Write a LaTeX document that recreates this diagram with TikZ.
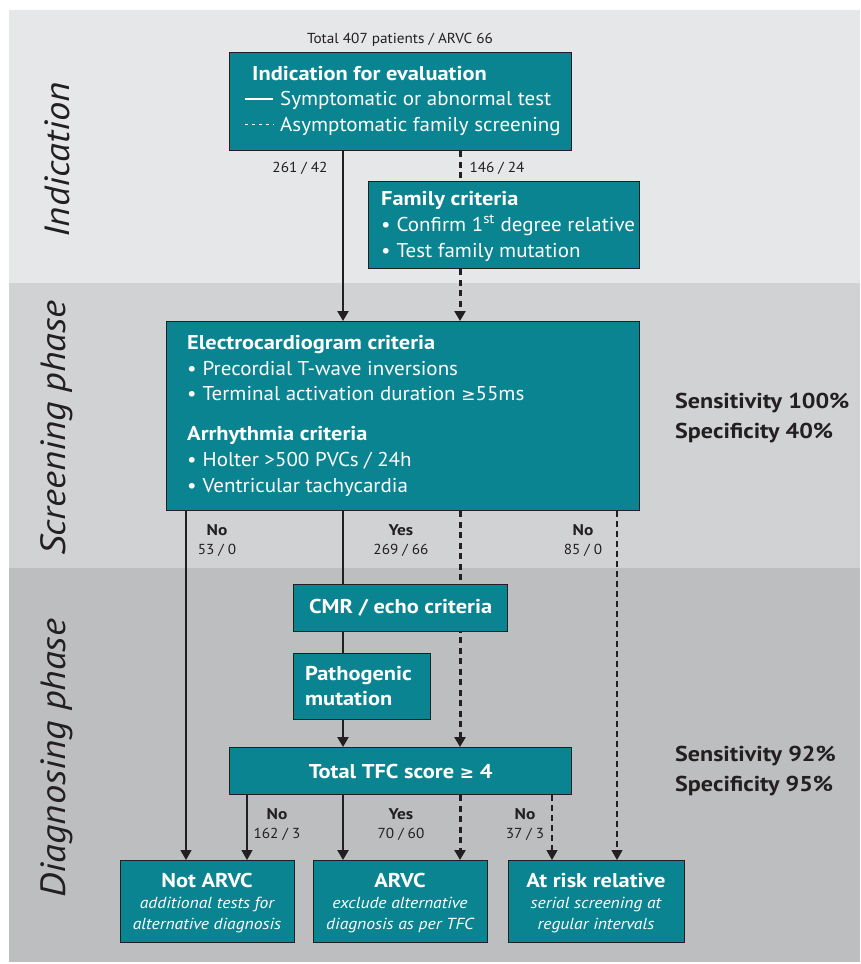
\documentclass[tikz,border=0pt]{standalone}
\usepackage{fontspec}
\setmainfont{PT Sans}[FakeStretch=1.05, BoldFeatures={FakeStretch=1.12}, ItalicFeatures={FakeStretch=1.1}]
\newfontfamily\symfont{DejaVu Sans}
\usetikzlibrary{arrows.meta}
\definecolor{teal1}{HTML}{0B8491}
\definecolor{bandA}{HTML}{E6E7E8}
\definecolor{bandB}{HTML}{D1D2D4}
\definecolor{bandC}{HTML}{BCBEC0}
\definecolor{ink}{HTML}{231F20}
\pgfdeclarelayer{bg}\pgfdeclarelayer{edges}\pgfsetlayers{bg,edges,main}
\newcommand{\fs}[1]{\fontsize{#1}{#1}\selectfont}
\begin{document}
\begin{tikzpicture}[x=1pt,y=-1pt,
  box/.style={draw=ink, fill=teal1, line width=1.3pt, inner sep=0pt, anchor=north west},
  wt/.style={text=white, inner sep=0pt, font=\fs{20}},
  wtb/.style={wt, font=\fs{20}\bfseries},
  lab/.style={text=ink, inner sep=0pt, anchor=base, font=\fs{14.5}},
  labb/.style={text=ink, inner sep=0pt, anchor=base, font=\fs{15.5}\bfseries},
  sens/.style={text=ink, inner sep=0pt, anchor=base west, font=\fs{21.5}\bfseries},
  phase/.style={text=ink, inner sep=0pt, rotate=90, font=\fs{35}\itshape},
  solidthick/.style={draw=ink, line width=2.8pt},
  solidthin/.style={draw=ink, line width=1.2pt},
  dashthick/.style={draw=ink, line width=3pt, dash pattern=on 6pt off 4.5pt},
  dashthin/.style={draw=ink, line width=1.2pt, dash pattern=on 5.5pt off 4.5pt},
  tip/.style={-{Triangle[length=10pt,width=11pt]}},
]
\useasboundingbox (0,0) rectangle (861,964);
% bands
\begin{pgfonlayer}{bg}
\fill[white] (0,0) rectangle (861,964);
\fill[bandA] (9,10) rectangle (860,283);
\fill[bandB] (9,283) rectangle (860,568);
\fill[bandC] (9,568) rectangle (860,962);
\end{pgfonlayer}

% phase labels
\node[phase] (phA) at (57,160) {Indication};
\node[phase] (phB) at (57,428) {Screening phase};
\node[phase] (phC) at (57,758) {Diagnosing phase};

% x positions of connectors
\coordinate (xa) at (186,0);
\coordinate (xb) at (247,0);
\coordinate (xc) at (343,0);
\coordinate (xd) at (460,0);
\coordinate (xe) at (552,0);
\coordinate (xf) at (617,0);

% top label
\node[lab] (total) at (400,43) {Total 407 patients / ARVC 66};

% indication box
\node[box, minimum width=342pt, minimum height=98pt] (ind) at (229,52) {};
\node[wtb, anchor=base west] (ind1) at (252,80) {Indication for evaluation};
\node[wt, anchor=base west] (ind2) at (280,105) {Symptomatic or abnormal test};
\node[wt, anchor=base west] (ind3) at (280,131) {Asymptomatic family screening};
\draw[white, line width=1.4pt] (245,99) -- (273,99);
\draw[white, line width=1.4pt, dash pattern=on 3pt off 4pt] (245,124.5) -- (274,124.5);

% family box
\node[box, minimum width=271pt, minimum height=87pt] (fam) at (368,181) {};
\node[wtb, anchor=base west] (fam1) at (381,205) {Family criteria};
\node[wt, anchor=base west] (fam2) at (381,231) {\textbullet\hspace{6pt}Confirm 1\textsuperscript{st} degree relative};
\node[wt, anchor=base west] (fam3) at (381,257) {\textbullet\hspace{6pt}Test family mutation};

% ECG box
\node[box, minimum width=473pt, minimum height=189pt] (ecg) at (166,321) {};
\node[wtb, anchor=base west] (ecg1) at (187,349) {Electrocardiogram criteria};
\node[wt, anchor=base west] (ecg2) at (187,375) {\textbullet\hspace{6pt}Precordial T-wave inversions};
\node[wt, anchor=base west] (ecg3) at (187,400) {\textbullet\hspace{6pt}Terminal activation duration {\symfont\fs{17}≥}55ms};
\node[wtb, anchor=base west] (ecg4) at (187,440) {Arrhythmia criteria};
\node[wt, anchor=base west] (ecg5) at (187,466) {\textbullet\hspace{6pt}Holter >500 PVCs / 24h};
\node[wt, anchor=base west] (ecg6) at (187,492) {\textbullet\hspace{6pt}Ventricular tachycardia};

% CMR box
\node[box, minimum width=214pt, minimum height=47pt] (cmr) at (293,584) {};
\node[wtb] (cmrt) at (cmr.center) {CMR / echo criteria};

% pathogenic box
\node[box, minimum width=137pt, minimum height=66pt] (path) at (293,653) {};
\node[wtb, anchor=base west] (path1) at (305,680) {Pathogenic};
\node[wtb, anchor=base west] (path2) at (305,705) {mutation};

% TFC box
\node[box, minimum width=342pt, minimum height=47pt] (tfc) at (229,747) {};
\node[wtb] (tfct) at (tfc.center) {Total TFC score {\symfont\fs{17}≥} 4};

% outcome boxes
\node[box, minimum width=174pt, minimum height=82pt] (notarvc) at (120,860) {};
\node[wt, anchor=base, font=\fs{20}\bfseries] (na1) at (207,887) {Not ARVC};
\node[wt, anchor=base, font=\fs{16}\itshape] (na2) at (207,908) {additional tests for};
\node[wt, anchor=base, font=\fs{16}\itshape] (na3) at (207,929) {alternative diagnosis};

\node[box, minimum width=174pt, minimum height=82pt] (arvc) at (313,860) {};
\node[wt, anchor=base, font=\fs{20}\bfseries] (ar1) at (400,887) {ARVC};
\node[wt, anchor=base, font=\fs{16}\itshape] (ar2) at (400,908) {exclude alternative};
\node[wt, anchor=base, font=\fs{16}\itshape] (ar3) at (400,929) {diagnosis as per TFC};

\node[box, minimum width=176pt, minimum height=82pt] (risk) at (508,860) {};
\node[wt, anchor=base, font=\fs{20}\bfseries] (rk1) at (596,887) {At risk relative};
\node[wt, anchor=base, font=\fs{16}\itshape] (rk2) at (596,908) {serial screening at};
\node[wt, anchor=base, font=\fs{16}\itshape] (rk3) at (596,929) {regular intervals};

% sensitivity texts
\node[sens] (s1) at (675,408) {Sensitivity 100\%};
\node[sens] (s2) at (675,438) {Specificity 40\%};
\node[sens] (s3) at (675,761) {Sensitivity 92\%};
\node[sens] (s4) at (675,791) {Specificity 95\%};

% connector labels
\node[lab] (l1) at (300,172) {261 / 42};
\node[lab] (l2) at (497,172) {146 / 24};
\node[labb] (l3a) at (217,535) {No};
\node[lab] (l3b) at (217,554) {53 / 0};
\node[labb] (l4a) at (401,535) {Yes};
\node[lab] (l4b) at (401,554) {269 / 66};
\node[labb] (l5a) at (583,535) {No};
\node[lab] (l5b) at (583,554) {85 / 0};
\node[labb] (l6a) at (277,819) {No};
\node[lab] (l6b) at (277,838) {162 / 3};
\node[labb] (l7a) at (401,819) {Yes};
\node[lab] (l7b) at (401,838) {70 / 60};
\node[labb] (l8a) at (525,819) {No};
\node[lab] (l8b) at (525,838) {37 / 3};

% connectors
\begin{pgfonlayer}{edges}
\draw[solidthick, tip] (ind.south -| xc) -- (ecg.north -| xc);
\draw[dashthick] (ind.south -| xd) -- (fam.north -| xd);
\draw[dashthick, tip] (fam.south -| xd) -- (ecg.north -| xd);

\draw[solidthin, tip] (ecg.south -| xa) -- (notarvc.north -| xa);
\draw[solidthick] (ecg.south -| xc) -- (cmr.north -| xc);
\draw[solidthick] (cmr.south -| xc) -- (path.north -| xc);
\draw[solidthick, tip] (path.south -| xc) -- (tfc.north -| xc);
\draw[dashthick, tip] (ecg.south -| xd) -- (tfc.north -| xd);
\draw[dashthin, tip] (ecg.south -| xf) -- (risk.north -| xf);

\draw[solidthin, tip] (tfc.south -| xb) -- (notarvc.north -| xb);
\draw[solidthick, tip] (tfc.south -| xc) -- (arvc.north -| xc);
\draw[dashthick, tip] (tfc.south -| xd) -- (arvc.north -| xd);
\draw[dashthin, tip] (tfc.south -| xe) -- (risk.north -| xe);
\end{pgfonlayer}
\end{tikzpicture}
\end{document}
